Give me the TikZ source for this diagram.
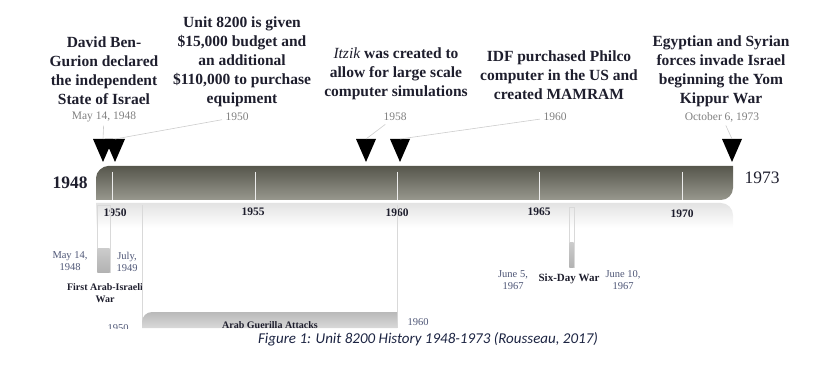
\documentclass[tikz,border=0pt]{standalone}
\usepackage{fontspec}
\setmainfont{Liberation Serif}
\newfontfamily\capfont{Carlito}

\definecolor{ink}{RGB}{30,30,45}
\definecolor{slate}{RGB}{78,86,118}
\definecolor{barTop}{RGB}{86,86,76}
\definecolor{barBot}{RGB}{152,152,142}
\definecolor{capblue}{RGB}{28,36,66}

\tikzset{
  title/.style={align=center, font=\bfseries\fontsize{15.5}{19}\selectfont, text=ink},
  date/.style={font=\fontsize{11.5}{13}\selectfont, text=black!50},
  leader/.style={draw=gray!40, line width=0.6pt},
  tick/.style={draw=white!85!gray, line width=0.8pt},
  yearlabel/.style={font=\bfseries\fontsize{11.5}{13}\selectfont, text=ink},
  endyear/.style={font=\fontsize{17.5}{19}\selectfont, text=ink},
  spandate/.style={align=center, font=\fontsize{10.5}{12.5}\selectfont, text=slate},
  spanname/.style={align=center, font=\bfseries\fontsize{10}{12}\selectfont, text=ink},
  guide/.style={draw=gray!30, line width=0.8pt},
}

\begin{document}
\begin{tikzpicture}[x=1pt, y=-1pt]
    \useasboundingbox (0,0) rectangle (824,366);

    % events above the bar
    \node (e1) at (104,71) [title] {David Ben-\\Gurion declared\\the independent\\State of Israel};
    \node (e2) at (242,62) [title] {Unit 8200 is given\\\$15,000 budget and\\an additional\\\$110,000 to purchase\\equipment};
    \node (e3) at (396,74) [title] {{\mdseries\itshape Itzik} was created to\\allow for large scale\\computer simulations};
    \node (e4) at (559,75) [title] {IDF purchased Philco\\computer in the US and\\created MAMRAM};
    \node (e5) at (721,71) [title] {Egyptian and Syrian\\forces invade Israel\\beginning the Yom\\Kippur War};

    \node (d1) at (104,117) [date] {May 14, 1948};
    \node (d2) at (237,117) [date] {1950};
    \node (d3) at (395,117) [date] {1958};
    \node (d4) at (555,117) [date] {1960};
    \node (d5) at (722,117) [date] {October 6, 1973};

    % markers
    \foreach \x [count=\i] in {103,115,366,400,732}{
      \fill[black] (\x-10,139) -- (\x+10,139) -- (\x,162) -- cycle;
      \coordinate (m\i) at (\x,139);
    }
    \foreach \i in {1,...,5}
      \draw[leader] (d\i) -- (m\i);

    % bar
    \shade[top color=barTop, bottom color=barBot] (96,200) -- (96,178) .. controls (96,171.4) and (102.6,166) .. (108,166) -- (733,166) -- (733,188) .. controls (733,194.6) and (727.4,200) .. (721,200) -- cycle;
    \foreach \x in {112,255,397,539,682}
      \draw[tick] (\x,172) -- (\x,200);

    \node (start) at (70,183) [endyear, font=\bfseries\fontsize{17.5}{19}\selectfont] {1948};
    \node (end) at (762,178) [endyear] {1973};

    % scale
    \shade[top color=gray!22, bottom color=white] (96,203) -- (721,203) .. controls (727.6,203) and (733,208.4) .. (733,215) -- (733,228) -- (96,228) -- cycle;
    \node (y1950) at (115,213) [yearlabel] {1950};
    \node (y1955) at (253,212) [yearlabel] {1955};
    \node (y1960) at (397,213) [yearlabel] {1960};
    \node (y1965) at (539,212) [yearlabel] {1965};
    \node (y1970) at (682,214) [yearlabel] {1970};

    % spans below the bar
    \begin{scope}
      \clip (0,201) rectangle (824,328);

      % first war
      \draw[guide] (97,205) rectangle (110,272);
      \shade[top color=gray!40, bottom color=gray!60] (97.5,248) rectangle (109.5,272);
      \node (w1a) at (70,261) [spandate] {May 14,\\1948};
      \node (w1b) at (127,262) [spandate] {July,\\1949};
      \node (w1) at (105,293) [spanname] {First Arab-Israeli\\War};

      % guerilla attacks
      \draw[guide] (142,205) -- (142,328);
      \draw[guide] (397,205) -- (397,328);
      \shade[top color=gray!55, bottom color=gray!30] (142,328) -- (142,322) .. controls (142,316.5) and (146.5,312) .. (152,312) -- (397,312) -- (397,328) -- cycle;
      \node (g) at (270,325.5) [spanname] {Arab Guerilla Attacks};
      \node (ga) at (118,328) [spandate] {1950};
      \node (gb) at (418,322) [spandate] {1960};

      % six-day war
      \draw[guide] (569,207) rectangle (574,267);
      \shade[top color=gray!40, bottom color=gray!60] (569.5,242) rectangle (573.5,267);
      \node (w2a) at (513,280) [spandate] {June 5,\\1967};
      \node (w2) at (569,279) [spanname, font=\bfseries\fontsize{11}{12}\selectfont] {Six-Day War};
      \node (w2b) at (623,280) [spandate] {June 10,\\1967};
    \end{scope}

    % caption
    \node (cap) at (428,339) [font=\capfont\itshape\fontsize{15}{17}\selectfont, text=capblue] {Figure 1: Unit 8200 History 1948-1973 (Rousseau, 2017)};

\end{tikzpicture}
\end{document}
